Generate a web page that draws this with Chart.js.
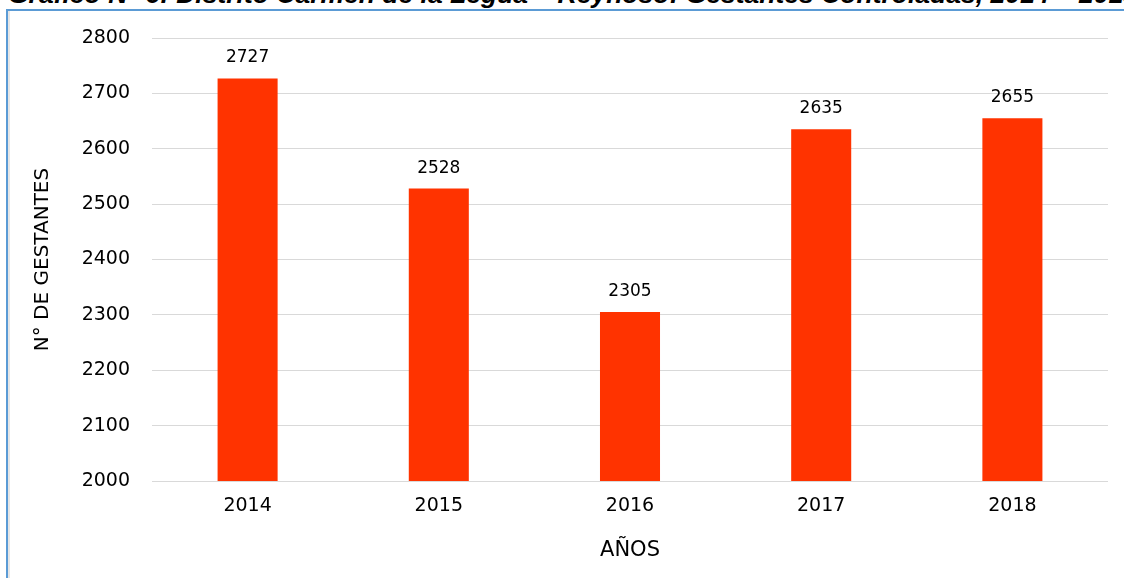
<!DOCTYPE html>
<html>
<head>
<meta charset="utf-8">
<script src="https://cdn.jsdelivr.net/npm/chart.js@4"></script>
<style>
  html, body { margin: 0; padding: 0; background: #fff; overflow: hidden; }
  #wrap { position: relative; width: 1124px; height: 578px; }
  #frame { position: absolute; left: 6px; top: 9px; width: 1130px; height: 600px;
           border-top: 2px solid #5b9bd5; border-left: 2px solid #5b9bd5;
           box-shadow: inset 2px 0 0 #e6e6e6; }
  #caption { position: absolute; left: 8px; top: -19px; white-space: nowrap;
             font: italic bold 26.5px/26px "Liberation Sans", Arial, sans-serif; color: #000; }
  canvas { position: absolute; left: 0; top: 0; }
</style>
</head>
<body>
<div id="wrap">
  <div id="caption">Gráfico N° 6: Distrito Carmen de la Legua – Reynoso: Gestantes Controladas, 2014 – 2018</div>
  <div id="frame"></div>
  <canvas id="gestantesChart" width="1124" height="578"></canvas>
</div>
<script>
// datos del gráfico
const years = ['2014', '2015', '2016', '2017', '2018'];
const gestantes = [2727, 2528, 2305, 2635, 2655];
const yTicks = [2000, 2100, 2200, 2300, 2400, 2500, 2600, 2700, 2800];

const FONT = '"DejaVu Sans", sans-serif';

// etiquetas de valor sobre cada barra
const valueLabels = {
    id: 'valueLabels',
    afterDatasetsDraw(chart) {
        const ctx = chart.ctx;
        const meta = chart.getDatasetMeta(0);
        ctx.save();
        ctx.font = '17px ' + FONT;
        ctx.fillStyle = '#000';
        ctx.textAlign = 'center';
        ctx.textBaseline = 'bottom';
        meta.data.forEach((bar, i) => {
            ctx.fillText(String(gestantes[i]), bar.x, bar.y - 12);
        });
        ctx.restore();
    }
};

document.addEventListener("DOMContentLoaded", function () {
    const ctx = document.getElementById('gestantesChart').getContext('2d');
    new Chart(ctx, {
        type: 'bar',
        data: {
            labels: years,
            datasets: [{
                label: 'N° de gestantes',
                data: gestantes,
                backgroundColor: '#ff3300',
                borderWidth: 0,
                barPercentage: 0.314,
                categoryPercentage: 1
            }]
        },
        options: {
            responsive: false,
            animation: false,
            layout: { padding: { top: 38, right: 16, left: 0, bottom: 0 } },
            scales: {
                x: {
                    grid: { display: false, drawTicks: false },
                    border: { display: false },
                    ticks: { color: '#000', padding: 14, font: { family: FONT, size: 19 } },
                    title: {
                        display: true, text: 'AÑOS', color: '#000',
                        font: { family: FONT, size: 21 }, padding: { top: 0, bottom: 15 }
                    },
                    afterFit(scale) { scale.height = 97; }
                },
                y: {
                    min: 2000,
                    max: 2800,
                    afterBuildTicks(scale) { scale.ticks = yTicks.map(v => ({ value: v })); },
                    grid: { color: '#d9d9d9', lineWidth: 1, drawTicks: false },
                    border: { display: false },
                    ticks: {
                        color: '#000', padding: 22, font: { family: FONT, size: 19 },
                        callback: v => String(v)
                    },
                    title: {
                        display: true, text: 'N° DE GESTANTES', color: '#000',
                        font: { family: FONT, size: 20 }, padding: { top: 31, bottom: 0 }
                    },
                    afterFit(scale) { scale.width = 152; }
                }
            },
            plugins: {
                legend: { display: false },
                tooltip: { enabled: false }
            }
        },
        plugins: [valueLabels]
    });
});
</script>
</body>
</html>
